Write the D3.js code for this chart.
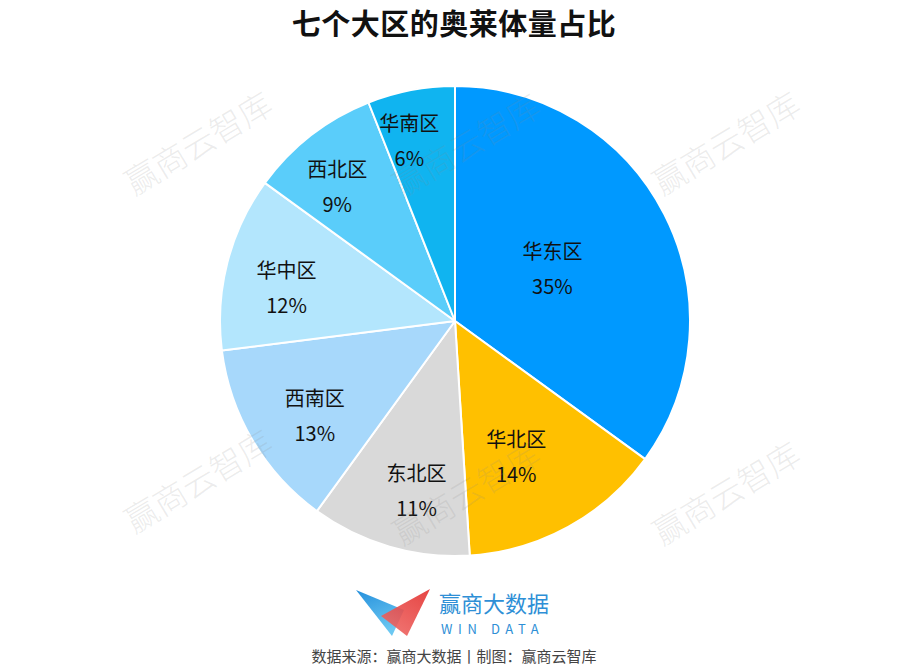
<!DOCTYPE html>
<html>
<head>
<meta charset="utf-8">
<script src="https://cdn.jsdelivr.net/npm/d3@7/dist/d3.min.js"></script>
<style>
  html, body { margin: 0; padding: 0; background: #fff; }
  svg { display: block; }
  text { font-family: "Noto Sans CJK SC", "Microsoft YaHei", sans-serif; }
</style>
</head>
<body>
<svg id="chart" width="908" height="667"></svg>
<script>
// ---- data ----
const regions = ["华东区", "华北区", "东北区", "西南区", "华中区", "西北区", "华南区"];
const shares = [35, 14, 11, 13, 12, 9, 6];
const colors = ["#0099FF", "#FFC000", "#D9D9D9", "#A7D8FB", "#B3E6FD", "#5ACDFA", "#10B4F0"];
const titleText = "七个大区的奥莱体量占比";
const sourceText = "数据来源：赢商大数据丨制图：赢商云智库";
const watermarkText = "赢商云智库";

// layout: label placement in polar terms (radius factor, angle shift in rad)
const labelOverride = { "华北区": { rf: 0.635, da: 0.08 }, "华东区": { rf: 0.47, da: -0.02 } };

const W = 908, H = 667;
const cx = 455, cy = 321, R = 235;
const svg = d3.select("#chart");

// title
svg.append("text")
  .attr("x", 454).attr("y", 35)
  .attr("text-anchor", "middle")
  .attr("font-size", 29).attr("font-weight", 700)
  .attr("letter-spacing", 0.5)
  .attr("fill", "#111")
  .text(titleText);

const pieData = regions.map((r, i) => ({ name: r, value: shares[i], color: colors[i] }));
const pie = d3.pie().value(d => d.value).sort(null);
const arcs = pie(pieData);
const arc = d3.arc().innerRadius(0).outerRadius(R);

const g = svg.append("g").attr("transform", `translate(${cx},${cy})`);
g.selectAll("path.slice").data(arcs).enter().append("path")
  .attr("class", "slice")
  .attr("d", arc)
  .attr("fill", d => d.data.color)
  .attr("stroke", "#fff")
  .attr("stroke-width", 2)
  .attr("stroke-linejoin", "round");

// labels: smaller slices pushed further out
const total = d3.sum(shares);
const lab = g.selectAll("g.lab").data(arcs).enter().append("g")
  .attr("class", "lab")
  .attr("transform", d => {
    const p = d.data.value / total;
    const o = labelOverride[d.data.name];
    const lr = R * (o ? o.rf : (0.85 - 1.0 * p));
    const a = (d.startAngle + d.endAngle) / 2 + (o ? o.da : -0.06);
    return `translate(${lr * Math.sin(a)},${-lr * Math.cos(a)})`;
  });
lab.append("text")
  .attr("text-anchor", "middle").attr("y", -10)
  .attr("font-size", 20).attr("fill", "#111")
  .text(d => d.data.name);
lab.append("text")
  .attr("text-anchor", "middle").attr("y", 25)
  .attr("font-size", 20).attr("fill", "#111")
  .text(d => d.data.value + "%");

// watermarks
const wmPos = [[200, 146], [468, 148], [728, 146], [200, 484], [468, 496], [728, 496]];
svg.append("g").selectAll("text").data(wmPos).enter().append("text")
  .attr("transform", d => `translate(${d[0]},${d[1]}) rotate(-31)`)
  .attr("text-anchor", "middle").attr("dominant-baseline", "middle")
  .attr("font-size", 33).attr("font-weight", 300)
  .attr("fill", "#888").attr("fill-opacity", 0.16)
  .text(watermarkText);

// logo
const defs = svg.append("defs");
const gb = defs.append("linearGradient").attr("id", "gb").attr("x1", 0).attr("y1", 0).attr("x2", 0.4).attr("y2", 1);
gb.append("stop").attr("offset", 0).attr("stop-color", "#2590dc");
gb.append("stop").attr("offset", 1).attr("stop-color", "#6cc8f2");
const gr = defs.append("linearGradient").attr("id", "gr").attr("x1", 1).attr("y1", 0).attr("x2", 0.3).attr("y2", 1);
gr.append("stop").attr("offset", 0).attr("stop-color", "#e3302e");
gr.append("stop").attr("offset", 1).attr("stop-color", "#ee6663");
svg.append("path").attr("d", "M356,590 L404,610 L392,636 Z").attr("fill", "url(#gb)");
svg.append("path").attr("d", "M430,589 L381,616 L407,636 Z").attr("fill", "url(#gr)").attr("fill-opacity", 0.9);

svg.append("text").attr("x", 439).attr("y", 612)
  .attr("font-size", 22).attr("fill", "#2e8fd6")
  .text("赢商大数据");
svg.append("text").attr("x", 441).attr("y", 634)
  .attr("font-size", 13).attr("fill", "#2e8fd6")
  .attr("font-family", "Roboto, sans-serif")
  .attr("letter-spacing", 5.6)
  .text("WIN DATA");

svg.append("text").attr("x", 454).attr("y", 662)
  .attr("text-anchor", "middle")
  .attr("font-size", 15).attr("fill", "#444")
  .text(sourceText);
</script>
</body>
</html>
